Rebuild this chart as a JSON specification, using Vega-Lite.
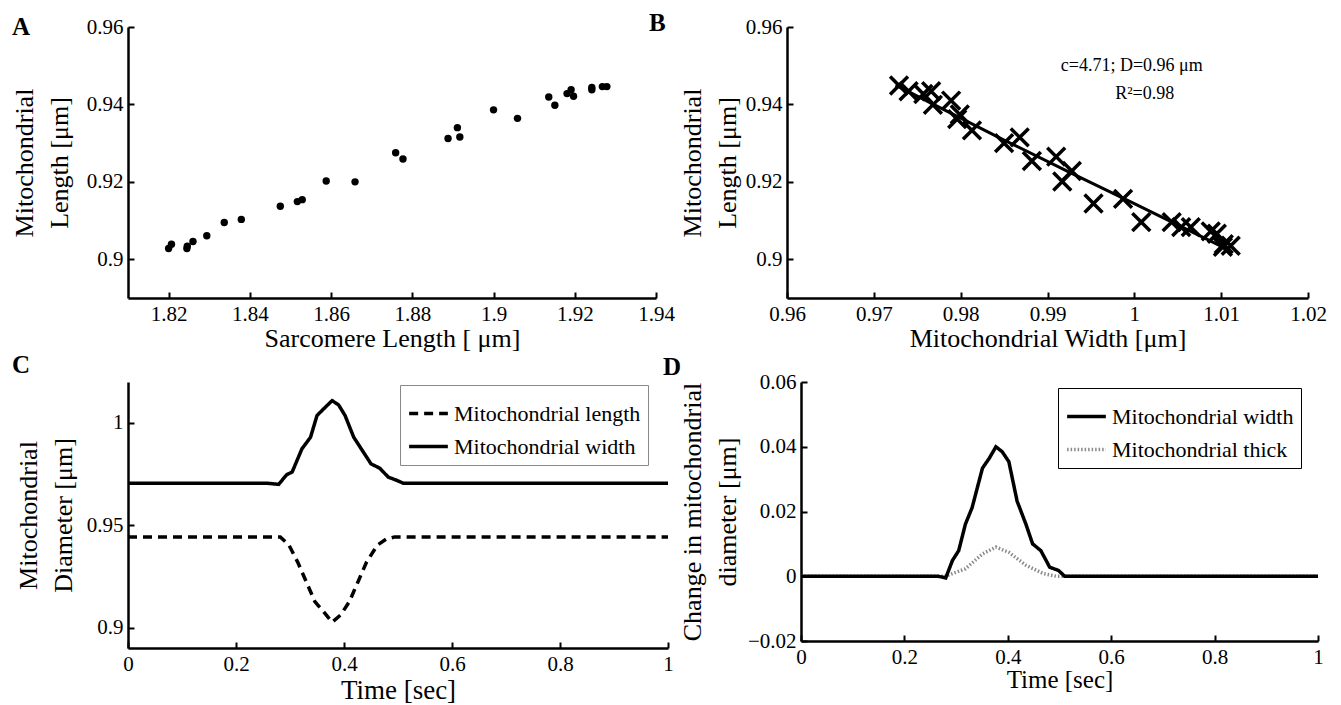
{
  "$schema": "https://vega.github.io/schema/vega-lite/v6.json",
  "background": "white",
  "padding": {"left": 11, "top": 11, "right": 5, "bottom": 5},
  "config": {
    "view": {"stroke": null},
    "font": "Liberation Serif",
    "axis": {
      "grid": false,
      "domainColor": "black",
      "domainWidth": 2.5,
      "tickColor": "black",
      "tickWidth": 2,
      "tickSize": -6,
      "labelFlush": false,
      "labelFont": "Liberation Serif",
      "labelFontSize": 21,
      "labelColor": "black",
      "titleFont": "Liberation Serif",
      "titleFontSize": 26,
      "titleFontWeight": "normal",
      "titleColor": "black",
      "format": ".2~f"
    },
    "axisX": {"titlePadding": 1, "labelPadding": 11},
    "axisY": {"titlePadding": 10, "titleLineHeight": 35, "labelPadding": 11},
    "title": {"font": "Liberation Serif", "fontSize": 25, "fontWeight": "bold", "color": "black", "anchor": "start", "frame": "group"},
    "legend": {
      "labelFont": "Liberation Serif",
      "labelFontSize": 22,
      "labelColor": "black",
      "labelLimit": 400,
      "symbolType": "stroke",
      "symbolSize": 1500,
      "symbolStrokeWidth": 3.5,
      "fillColor": "white",
      "padding": 7,
      "rowPadding": -25,
      "labelOffset": 4
    }
  },
  "datasets": {
    "a": [
      {"sl": 1.8200, "ml": 0.9028}, {"sl": 1.8207, "ml": 0.9039}, {"sl": 1.8245, "ml": 0.9028},
      {"sl": 1.8246, "ml": 0.9034}, {"sl": 1.8260, "ml": 0.9046}, {"sl": 1.8294, "ml": 0.9061},
      {"sl": 1.8337, "ml": 0.9095}, {"sl": 1.8379, "ml": 0.9103}, {"sl": 1.8475, "ml": 0.9137},
      {"sl": 1.8517, "ml": 0.9149}, {"sl": 1.8529, "ml": 0.9154}, {"sl": 1.8588, "ml": 0.9202},
      {"sl": 1.8659, "ml": 0.9200}, {"sl": 1.8759, "ml": 0.9275}, {"sl": 1.8777, "ml": 0.9259},
      {"sl": 1.8888, "ml": 0.9312}, {"sl": 1.8911, "ml": 0.9340}, {"sl": 1.8917, "ml": 0.9316},
      {"sl": 1.9000, "ml": 0.9386}, {"sl": 1.9059, "ml": 0.9364}, {"sl": 1.9136, "ml": 0.9419},
      {"sl": 1.9151, "ml": 0.9398}, {"sl": 1.9181, "ml": 0.9428}, {"sl": 1.9191, "ml": 0.9438},
      {"sl": 1.9197, "ml": 0.9421}, {"sl": 1.9242, "ml": 0.9444}, {"sl": 1.9242, "ml": 0.9438},
      {"sl": 1.9268, "ml": 0.9446}, {"sl": 1.9279, "ml": 0.9446}
    ],
    "b": [
      {"mw": 0.9729, "ml": 0.9449}, {"mw": 0.9740, "ml": 0.9434}, {"mw": 0.9757, "ml": 0.9427},
      {"mw": 0.9766, "ml": 0.9434}, {"mw": 0.9768, "ml": 0.9399}, {"mw": 0.9789, "ml": 0.9410},
      {"mw": 0.9799, "ml": 0.9374}, {"mw": 0.9796, "ml": 0.9362}, {"mw": 0.9813, "ml": 0.9333},
      {"mw": 0.9850, "ml": 0.9300}, {"mw": 0.9868, "ml": 0.9315}, {"mw": 0.9882, "ml": 0.9254},
      {"mw": 0.9910, "ml": 0.9265}, {"mw": 0.9917, "ml": 0.9201}, {"mw": 0.9928, "ml": 0.9228},
      {"mw": 0.9953, "ml": 0.9144}, {"mw": 0.9987, "ml": 0.9156}, {"mw": 1.0008, "ml": 0.9096},
      {"mw": 1.0043, "ml": 0.9096}, {"mw": 1.0054, "ml": 0.9083}, {"mw": 1.0065, "ml": 0.9083},
      {"mw": 1.0088, "ml": 0.9072}, {"mw": 1.0095, "ml": 0.9066}, {"mw": 1.0103, "ml": 0.9039},
      {"mw": 1.0111, "ml": 0.9035}, {"mw": 1.0102, "ml": 0.9032}
    ],
    "bfit": [
      {"mw": 0.9725, "ml": 0.9450}, {"mw": 0.9850, "ml": 0.9308}, {"mw": 0.9925, "ml": 0.9225},
      {"mw": 1.0000, "ml": 0.9144}, {"mw": 1.0105, "ml": 0.9028}
    ],
    "bnote": [
      {"mw": 0.9997, "ml": 0.9500, "label": "c=4.71; D=0.96 μm"},
      {"mw": 1.0012, "ml": 0.9428, "label": "R²=0.98"}
    ],
    "c": [
      {"t": 0, "v": 0.9443, "s": "Mitochondrial length"}, {"t": 0.282, "v": 0.9443, "s": "Mitochondrial length"},
      {"t": 0.298, "v": 0.9403, "s": "Mitochondrial length"}, {"t": 0.314, "v": 0.9321, "s": "Mitochondrial length"},
      {"t": 0.330, "v": 0.9224, "s": "Mitochondrial length"}, {"t": 0.346, "v": 0.9127, "s": "Mitochondrial length"},
      {"t": 0.362, "v": 0.9078, "s": "Mitochondrial length"}, {"t": 0.378, "v": 0.9026, "s": "Mitochondrial length"},
      {"t": 0.394, "v": 0.9062, "s": "Mitochondrial length"}, {"t": 0.410, "v": 0.9127, "s": "Mitochondrial length"},
      {"t": 0.426, "v": 0.9224, "s": "Mitochondrial length"}, {"t": 0.442, "v": 0.9321, "s": "Mitochondrial length"},
      {"t": 0.462, "v": 0.9403, "s": "Mitochondrial length"}, {"t": 0.478, "v": 0.9432, "s": "Mitochondrial length"},
      {"t": 0.494, "v": 0.9443, "s": "Mitochondrial length"}, {"t": 1, "v": 0.9443, "s": "Mitochondrial length"},
      {"t": 0, "v": 0.9705, "s": "Mitochondrial width"}, {"t": 0.258, "v": 0.9705, "s": "Mitochondrial width"},
      {"t": 0.279, "v": 0.9700, "s": "Mitochondrial width"}, {"t": 0.294, "v": 0.9747, "s": "Mitochondrial width"},
      {"t": 0.304, "v": 0.9760, "s": "Mitochondrial width"}, {"t": 0.322, "v": 0.9873, "s": "Mitochondrial width"},
      {"t": 0.338, "v": 0.9930, "s": "Mitochondrial width"}, {"t": 0.350, "v": 1.0036, "s": "Mitochondrial width"},
      {"t": 0.362, "v": 1.0068, "s": "Mitochondrial width"}, {"t": 0.378, "v": 1.0109, "s": "Mitochondrial width"},
      {"t": 0.390, "v": 1.0088, "s": "Mitochondrial width"}, {"t": 0.402, "v": 1.0036, "s": "Mitochondrial width"},
      {"t": 0.418, "v": 0.9930, "s": "Mitochondrial width"}, {"t": 0.434, "v": 0.9865, "s": "Mitochondrial width"},
      {"t": 0.450, "v": 0.9800, "s": "Mitochondrial width"}, {"t": 0.466, "v": 0.9779, "s": "Mitochondrial width"},
      {"t": 0.482, "v": 0.9735, "s": "Mitochondrial width"}, {"t": 0.498, "v": 0.9719, "s": "Mitochondrial width"},
      {"t": 0.510, "v": 0.9705, "s": "Mitochondrial width"}, {"t": 1, "v": 0.9705, "s": "Mitochondrial width"}
    ],
    "d": [
      {"t": 0, "v": 0, "s": "Mitochondrial thick"}, {"t": 0.28, "v": 0, "s": "Mitochondrial thick"},
      {"t": 0.318, "v": 0.0023, "s": "Mitochondrial thick"}, {"t": 0.351, "v": 0.0069, "s": "Mitochondrial thick"},
      {"t": 0.377, "v": 0.0090, "s": "Mitochondrial thick"}, {"t": 0.402, "v": 0.0074, "s": "Mitochondrial thick"},
      {"t": 0.435, "v": 0.0034, "s": "Mitochondrial thick"}, {"t": 0.469, "v": 0.0008, "s": "Mitochondrial thick"},
      {"t": 0.494, "v": 0, "s": "Mitochondrial thick"}, {"t": 1, "v": 0, "s": "Mitochondrial thick"},
      {"t": 0, "v": 0, "s": "Mitochondrial width"}, {"t": 0.265, "v": 0, "s": "Mitochondrial width"},
      {"t": 0.280, "v": -0.0005, "s": "Mitochondrial width"}, {"t": 0.293, "v": 0.0049, "s": "Mitochondrial width"},
      {"t": 0.305, "v": 0.0079, "s": "Mitochondrial width"}, {"t": 0.318, "v": 0.0161, "s": "Mitochondrial width"},
      {"t": 0.331, "v": 0.0212, "s": "Mitochondrial width"}, {"t": 0.351, "v": 0.0334, "s": "Mitochondrial width"},
      {"t": 0.364, "v": 0.0364, "s": "Mitochondrial width"}, {"t": 0.377, "v": 0.0400, "s": "Mitochondrial width"},
      {"t": 0.389, "v": 0.0385, "s": "Mitochondrial width"}, {"t": 0.402, "v": 0.0354, "s": "Mitochondrial width"},
      {"t": 0.418, "v": 0.0232, "s": "Mitochondrial width"}, {"t": 0.435, "v": 0.0161, "s": "Mitochondrial width"},
      {"t": 0.448, "v": 0.0100, "s": "Mitochondrial width"}, {"t": 0.464, "v": 0.0079, "s": "Mitochondrial width"},
      {"t": 0.481, "v": 0.0028, "s": "Mitochondrial width"}, {"t": 0.498, "v": 0.0018, "s": "Mitochondrial width"},
      {"t": 0.510, "v": 0, "s": "Mitochondrial width"}, {"t": 1, "v": 0, "s": "Mitochondrial width"}
    ]
  },
  "spacing": 2,
  "resolve": {
    "scale": {"strokeDash": "independent", "color": "independent", "x": "independent", "y": "independent"},
    "legend": {"strokeDash": "independent", "color": "independent"}
  },
  "vconcat": [
    {
      "bounds": "flush",
      "spacing": 131,
      "resolve": {
        "scale": {"x": "independent", "y": "independent"}
      },
      "hconcat": [
        {
          "width": 528,
          "height": 271,
          "title": {"text": "A", "dx": -116, "dy": 28},
          "data": {"name": "a"},
          "mark": {"type": "circle", "size": 55, "color": "black", "opacity": 1},
          "encoding": {
            "x": {"field": "sl", "type": "quantitative", "scale": {"domain": [1.81, 1.94], "zero": false, "nice": false},
                  "axis": {"values": [1.82, 1.84, 1.86, 1.88, 1.9, 1.92, 1.94], "title": "Sarcomere Length [ μm]"}},
            "y": {"field": "ml", "type": "quantitative", "scale": {"domain": [0.89, 0.96], "zero": false, "nice": false},
                  "axis": {"values": [0.9, 0.92, 0.94, 0.96], "title": ["Mitochondrial", "Length [μm]"], "titlePadding": 14}}
          }
        },
        {
          "width": 521,
          "height": 271,
          "title": {"text": "B", "dx": -138, "dy": 24},
          "layer": [
            {
              "data": {"name": "bfit"},
              "mark": {"type": "line", "color": "black", "strokeWidth": 3},
              "encoding": {
                "x": {"field": "mw", "type": "quantitative", "scale": {"domain": [0.96, 1.02], "zero": false, "nice": false},
                      "axis": {"values": [0.96, 0.97, 0.98, 0.99, 1, 1.01, 1.02], "title": "Mitochondrial  Width [μm]"}},
                "y": {"field": "ml", "type": "quantitative", "scale": {"domain": [0.89, 0.96], "zero": false, "nice": false},
                      "axis": {"values": [0.9, 0.92, 0.94, 0.96], "title": ["Mitochondrial", "Length [μm]"], "titlePadding": 5}}
              }
            },
            {
              "data": {"name": "b"},
              "mark": {"type": "point", "shape": "M-1,-1L1,1M-1,1L1,-1", "filled": false, "size": 320, "strokeWidth": 3.5, "color": "black", "opacity": 1},
              "encoding": {
                "x": {"field": "mw", "type": "quantitative"},
                "y": {"field": "ml", "type": "quantitative"}
              }
            },
            {
              "data": {"name": "bnote"},
              "mark": {"type": "text", "font": "Liberation Serif", "fontSize": 18, "color": "black", "align": "center", "baseline": "middle"},
              "encoding": {
                "x": {"field": "mw", "type": "quantitative"},
                "y": {"field": "ml", "type": "quantitative"},
                "text": {"field": "label"}
              }
            }
          ]
        }
      ]
    },
    {
      "bounds": "flush",
      "spacing": 133,
      "resolve": {
        "scale": {"strokeDash": "independent", "color": "independent", "x": "independent", "y": "independent"},
        "legend": {"strokeDash": "independent", "color": "independent"}
      },
      "hconcat": [
        {
          "width": 540,
          "height": 266,
          "title": {"text": "C", "dx": -116, "dy": 0},
          "data": {"name": "c"},
          "mark": {"type": "line", "color": "black", "strokeWidth": 3.5},
          "encoding": {
            "x": {"field": "t", "type": "quantitative", "scale": {"domain": [0, 1], "nice": false},
                  "axis": {"values": [0, 0.2, 0.4, 0.6, 0.8, 1], "title": "Time [sec]", "titleFontSize": 27, "titlePadding": 3}},
            "y": {"field": "v", "type": "quantitative", "scale": {"domain": [0.89, 1.02], "zero": false, "nice": false},
                  "axis": {"values": [0.9, 0.95, 1], "title": ["Mitochondrial", "Diameter [μm]"], "titlePadding": 10}},
            "strokeDash": {"field": "s", "type": "nominal",
                           "scale": {"domain": ["Mitochondrial length", "Mitochondrial width"], "range": [[9, 6], [1, 0]]},
                           "legend": {"title": null, "orient": "none", "legendX": 272, "legendY": 3, "strokeColor": "#888"}}
          }
        },
        {
          "width": 517,
          "height": 259,
          "title": {"text": "D", "dx": -138, "dy": 13},
          "data": {"name": "d"},
          "mark": {"type": "line", "strokeWidth": 3.5},
          "encoding": {
            "x": {"field": "t", "type": "quantitative", "scale": {"domain": [0, 1], "nice": false},
                  "axis": {"values": [0, 0.2, 0.4, 0.6, 0.8, 1], "title": "Time [sec]", "titleFontSize": 25, "titlePadding": 0}},
            "y": {"field": "v", "type": "quantitative", "scale": {"domain": [-0.02, 0.06], "zero": false, "nice": false},
                  "axis": {"values": [-0.02, 0, 0.02, 0.04, 0.06], "title": ["Change in mitochondrial", "diameter [μm]"], "titlePadding": 7}},
            "color": {"field": "s", "type": "nominal",
                      "scale": {"domain": ["Mitochondrial width", "Mitochondrial thick"], "range": ["black", "#8a8a8a"]},
                      "legend": {"title": null, "orient": "none", "legendX": 257, "legendY": 6, "strokeColor": "black",
                                 "encoding": {"legend": {"update": {"strokeWidth": {"value": 2}}}}}},
            "strokeDash": {"field": "s", "type": "nominal",
                           "scale": {"domain": ["Mitochondrial width", "Mitochondrial thick"], "range": [[1, 0], [1.5, 2]]},
                           "legend": {"title": null, "orient": "none", "legendX": 257, "legendY": 6, "strokeColor": "black",
                                      "encoding": {"legend": {"update": {"strokeWidth": {"value": 2}}}}}}
          }
        }
      ]
    }
  ]
}
